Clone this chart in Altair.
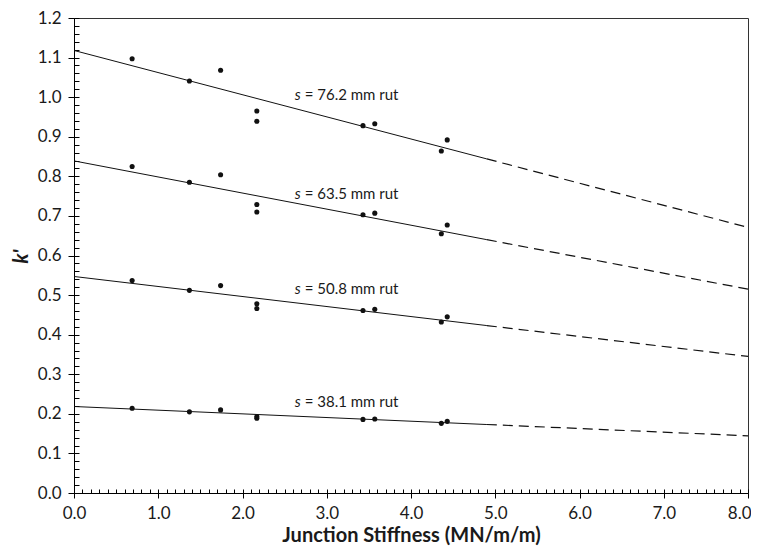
import altair as alt
import pandas as pd

# ---- data ----
stiffness = [0.69, 1.37, 1.74, 2.17, 2.17, 3.43, 3.57, 4.36, 4.43]
k_762 = [1.097, 1.041, 1.068, 0.965, 0.939, 0.928, 0.933, 0.864, 0.892]
k_635 = [0.825, 0.785, 0.804, 0.729, 0.710, 0.703, 0.707, 0.655, 0.677]
k_508 = [0.537, 0.512, 0.524, 0.478, 0.466, 0.461, 0.464, 0.432, 0.445]
k_381 = [0.214, 0.205, 0.210, 0.193, 0.189, 0.186, 0.187, 0.176, 0.181]

series = ["76.2", "63.5", "50.8", "38.1"]
point_sets = [k_762, k_635, k_508, k_381]

fit_x = [0.0, 4.9, 8.0]
fit_762 = [1.118, 0.844, 0.671]
fit_635 = [0.839, 0.640, 0.515]
fit_508 = [0.547, 0.423, 0.345]
fit_381 = [0.2185, 0.173, 0.1445]
fit_sets = [fit_762, fit_635, fit_508, fit_381]

label_x = 2.62
label_y = [0.993, 0.744, 0.502, 0.217]
label_rest = ["= 76.2 mm rut", "= 63.5 mm rut", "= 50.8 mm rut", "= 38.1 mm rut"]

x_ticks = [0, 1, 2, 3, 4, 5, 6, 7, 8]
y_ticks = [0.0, 0.1, 0.2, 0.3, 0.4, 0.5, 0.6, 0.7, 0.8, 0.9, 1.0, 1.1, 1.2]
x_minor = [i / 10 for i in range(0, 81)]
y_minor = [i / 50 for i in range(0, 61)]

# ---- tables ----
pts = pd.DataFrame(
    [{"x": xv, "k": kv, "s": s} for s, ks in zip(series, point_sets) for xv, kv in zip(stiffness, ks)]
)
solid_rows, dash_rows = [], []
for s, fv in zip(series, fit_sets):
    solid_rows += [{"x": fit_x[0], "k": fv[0], "s": s}, {"x": fit_x[1], "k": fv[1], "s": s}]
    dash_rows += [{"x": fit_x[1], "k": fv[1], "s": s}, {"x": fit_x[2], "k": fv[2], "s": s}]
solid = pd.DataFrame(solid_rows)
dashed = pd.DataFrame(dash_rows)
labels = pd.DataFrame({"x": [label_x] * 4, "k": label_y, "rest": label_rest, "s": series})

FONT = "Lato"
INK = "#1a1a1a"
xs = alt.Scale(domain=[0, 8], nice=False, zero=False)
ys = alt.Scale(domain=[0, 1.2], nice=False, zero=False)

outer_x = alt.Axis(values=x_ticks, format=".1f", tickSize=5, labelPadding=7, grid=False,
                   labelFlush=False, labelOverlap=False,
                   labelAlign={"condition": {"test": "datum.value >= 8", "value": "right"}, "value": "center"},
                   labelOffset={"condition": {"test": "datum.value >= 8", "value": 3}, "value": 0},
                   title="Junction Stiffness (MN/m/m)", titleFont=FONT, titleFontSize=20,
                   titleFontWeight="bold", titleColor=INK, titleY=48,
                   titleBaseline="alphabetic", labelFont=FONT, labelFontSize=17,
                   labelColor=INK, domainColor="#000", tickColor="#000")
outer_y = alt.Axis(values=y_ticks, format=".1f", tickSize=6, labelPadding=7, grid=False,
                   labelFlush=False, labelOverlap=False,
                   title="k'", titleFont=FONT, titleFontSize=20, titleFontWeight="bold",
                   titleFontStyle="italic", titleColor=INK, titleX=-53, titleY=238,
                   titleAngle=-90, titleAlign="center", titleBaseline="middle",
                   labelFont=FONT, labelFontSize=17, labelColor=INK,
                   domainColor="#000", tickColor="#000")
inner_x = alt.Axis(values=x_minor, labels=False, domain=False, grid=False, title=None,
                   tickSize=4, offset=-4, orient="bottom", tickColor="#000")
inner_y = alt.Axis(values=y_minor, labels=False, domain=False, grid=False, title=None,
                   tickSize=5, offset=-5, orient="left", tickColor="#000")

points = alt.Chart(pts).mark_circle(size=26, color="#111", opacity=1).encode(
    x=alt.X("x:Q", scale=xs, axis=outer_x),
    y=alt.Y("k:Q", scale=ys, axis=outer_y),
    detail="s:N",
)

solid_lines = alt.Chart(solid).mark_line(color="#111", strokeWidth=1).encode(
    x=alt.X("x:Q", scale=xs, axis=inner_x),
    y=alt.Y("k:Q", scale=ys, axis=inner_y),
    detail="s:N",
)

dashed_lines = alt.Chart(dashed).mark_line(color="#111", strokeWidth=1.2, strokeDash=[10, 6]).encode(
    x=alt.X("x:Q", scale=xs, axis=None),
    y=alt.Y("k:Q", scale=ys, axis=None),
    detail="s:N",
)

s_text = alt.Chart(labels).mark_text(font=FONT, fontSize=15, fontStyle="italic", align="left",
                                     baseline="alphabetic", color=INK).encode(
    x=alt.X("x:Q", scale=xs, axis=None),
    y=alt.Y("k:Q", scale=ys, axis=None),
    text=alt.value("s"),
)
rest_text = alt.Chart(labels).mark_text(font=FONT, fontSize=15, align="left", dx=10,
                                        baseline="alphabetic", color=INK).encode(
    x=alt.X("x:Q", scale=xs, axis=None),
    y=alt.Y("k:Q", scale=ys, axis=None),
    text="rest:N",
)

chart = alt.layer(points, solid_lines, dashed_lines, s_text, rest_text).resolve_axis(
    x="independent", y="independent"
).properties(
    width=674, height=475,
    autosize=alt.AutoSizeParams(type="none"),
    padding={"left": 66, "top": 10, "right": 3, "bottom": 53},
    background="white",
).configure_view(stroke="#333", strokeWidth=1)

chart.save("out.html", embed_options={"renderer": "svg", "actions": False})
